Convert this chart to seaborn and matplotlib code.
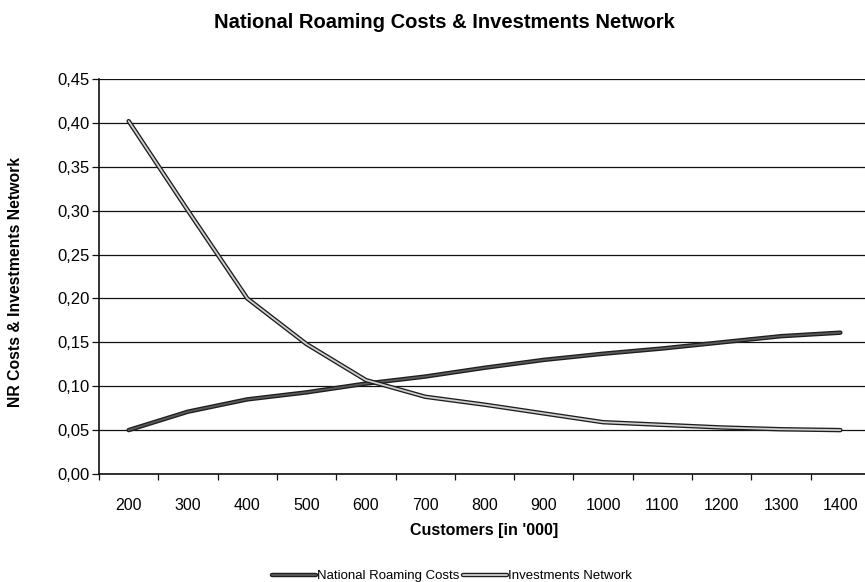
import pandas as pd
import matplotlib
matplotlib.use('Agg')
import matplotlib.pyplot as plt
import matplotlib.patheffects as pe
from matplotlib.ticker import FixedLocator, FuncFormatter
import seaborn as sns

# Data
customers = ['200', '300', '400', '500', '600', '700', '800', '900',
             '1000', '1100', '1200', '1300', '1400']
nr_costs = [0.050, 0.071, 0.085, 0.093, 0.103, 0.111, 0.121, 0.130,
            0.137, 0.143, 0.150, 0.157, 0.161]
investments = [0.402, 0.300, 0.200, 0.148, 0.107, 0.088, 0.079, 0.069,
               0.059, 0.056, 0.053, 0.051, 0.050]
series_names = ['National Roaming Costs', 'Investments Network']

df = pd.DataFrame({
    'Customers': customers * 2,
    'Value': nr_costs + investments,
    'Series': [series_names[0]] * len(customers) + [series_names[1]] * len(customers),
})

sns.set_style('white', {'text.color': 'black', 'axes.labelcolor': 'black',
                        'xtick.color': 'black', 'ytick.color': 'black'})
plt.rcParams['font.family'] = ['Liberation Sans', 'DejaVu Sans']

fig = plt.figure(figsize=(8.65, 5.82), dpi=100)
# plot area runs past the right edge of the (cropped) scan
ax = fig.add_axes([99 / 865, 1 - 474 / 582, 771 / 865, 395 / 582])

# fill colours of the two series (outlines added below)
palette = {series_names[0]: '#5a5a5a', series_names[1]: '#cfcfcf'}
sns.lineplot(data=df, x='Customers', y='Value', hue='Series', palette=palette,
             sort=False, linewidth=1.3, ax=ax)

outline = [pe.Stroke(linewidth=3.2, foreground='#1e1e1e'), pe.Normal()]
for line in ax.get_lines():
    line.set_path_effects(outline)

ax.set_xlim(-0.5, len(customers) - 0.5)
ax.set_ylim(0, 0.45)
ax.set_yticks([i * 0.05 for i in range(10)])
ax.yaxis.set_major_formatter(FuncFormatter(lambda v, p: f'{v:.2f}'.replace('.', ',')))
ax.grid(axis='y', color='#111111', linewidth=0.9)
ax.grid(axis='x', visible=False)

# category axis: ticks between categories, labels centred
ax.xaxis.set_minor_locator(FixedLocator([i + 0.5 for i in range(-1, len(customers))]))
ax.tick_params(axis='x', which='major', length=0, pad=17, labelsize=11.5)
ax.tick_params(axis='x', which='minor', length=4, width=0.9, color='#111111', direction='out')
ax.tick_params(axis='y', which='major', length=5, width=0.9, color='#111111',
               direction='out', labelsize=12, pad=2)
ax.tick_params(axis='both', bottom=True, left=True, which='both')

for side in ['top', 'right']:
    ax.spines[side].set_visible(False)
for side in ['left', 'bottom']:
    ax.spines[side].set_color('#111111')
    ax.spines[side].set_linewidth(1.2)

ax.set_xlabel("Customers [in '000]", fontsize=11.5, fontweight='bold')
ax.xaxis.set_label_coords(0.5, -0.125)
ax.set_ylabel('NR Costs & Investments Network', fontsize=11.3, fontweight='bold')
ax.yaxis.set_label_coords(-0.098, 0.486)
fig.text(444 / 865, 1 - 22 / 582, 'National Roaming Costs & Investments Network',
         fontsize=14.5, fontweight='bold', ha='center', va='center')

handles, labels = ax.get_legend_handles_labels()
ax.get_legend().remove()
leg = fig.legend(handles, labels, loc='center', bbox_to_anchor=(452 / 865, 0.01),
                 ncol=2, frameon=False, fontsize=9.5, handlelength=3.3,
                 handletextpad=0.1, columnspacing=0.3, borderpad=0)
for h in leg.get_lines():
    h.set_path_effects([pe.Stroke(linewidth=3.2, foreground='#1e1e1e'), pe.Normal()])

fig.savefig('out.png', dpi=100)
